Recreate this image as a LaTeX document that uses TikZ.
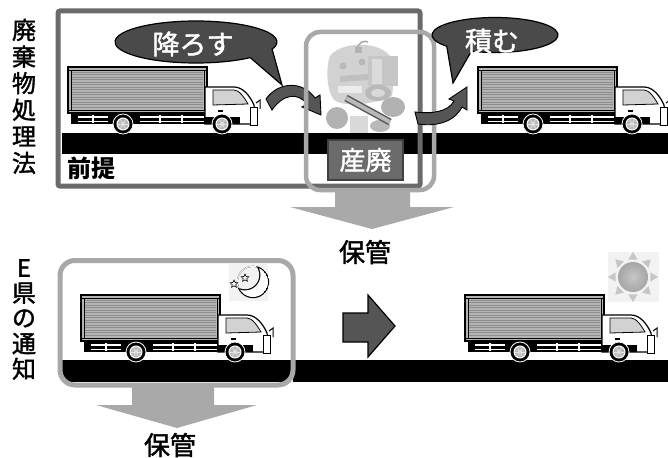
\documentclass[tikz,border=0pt]{standalone}
\usepackage{fontspec}
\newfontfamily\jp[FakeBold=1.6]{Noto Sans CJK JP}
\newfontfamily\jpb{Noto Sans CJK JP}
\usetikzlibrary{calc,shapes.geometric}
\definecolor{frameDark}{HTML}{6A6A6A}
\definecolor{frameLight}{HTML}{A8A8A8}
\definecolor{bubbleFill}{HTML}{4A4A4A}
\definecolor{arrowDark}{HTML}{555555}
\definecolor{arrowLight}{HTML}{A9A9A9}
\definecolor{boxStripe}{HTML}{8C8C8C}
\definecolor{boxBase}{HTML}{B4B4B4}
\definecolor{skyPale}{HTML}{F2F2F2}
\definecolor{tagFill}{HTML}{6B6B6B}

\tikzset{
  vlabel/.style={font=\jp\fontsize{24}{24}\selectfont, inner sep=0pt},
  bubbletext/.style={font=\jp\fontsize{27}{27}\selectfont, text=white, inner sep=0pt},
  plain/.style={font=\jp\fontsize{26}{26}\selectfont, inner sep=0pt},
  bubble/.style={fill=bubbleFill, draw=black, line width=1.2pt},
  bentarrow/.style={fill=arrowDark, draw=black, line width=0.9pt},
  downarrow/.style={fill=arrowLight},
  truck/.pic={
    % chassis
    \fill[black] (3,44) rectangle (186,57);
    % cargo box with ribbed sides
    \fill[boxBase] (0,0) rectangle (139,46);
    \foreach \yy in {5,7.5,...,41}{
      \draw[boxStripe, line width=0.9pt] (4,\yy) -- (135,\yy);
    }
    \draw[black, line width=1.2pt] (0,0) rectangle (139,46);
    \draw[black, line width=0.8pt] (0,3) -- (139,3) (0,43) -- (139,43) (3,3) -- (3,43) (136,3) -- (136,43);
    % side guards
    \draw[white, line width=1.4pt] (10,50) -- (40,50) (10,54.5) -- (40,54.5)
      (72,50) -- (136,50) (72,54.5) -- (136,54.5)
      (92,48) -- (92,56) (114,48) -- (114,56) (25,48) -- (25,56);
    % cab
    \filldraw[fill=white, draw=black, line width=1.2pt]
      (137,57) -- (137,20) -- (166,20) .. controls (175,20) and (182,29) .. (186,38) -- (188,57) -- cycle;
    \filldraw[fill=gray!35, draw=black, line width=0.8pt]
      (145,23) -- (166,23) .. controls (171,23) and (176,30) .. (180,37) -- (145,38) -- cycle;
    \draw[black, line width=1.4pt] (150,44) -- (155,44);
    \fill[black] (137,50) rectangle (172,57);
    \filldraw[fill=white, draw=black, line width=0.8pt] (182,40) rectangle (189,58);
    \draw[black, line width=1pt] (188,36) -- (192,33) -- (192,42);
    % wheels
    \foreach \wx in {55,154}{
      \filldraw[fill=black, draw=white, line width=0.8pt] (\wx,57) circle (10);
      \filldraw[fill=gray!55, draw=white, line width=1pt] (\wx,57) circle (6);
      \foreach \s in {0,60,...,300}{
        \draw[gray!20, line width=0.6pt] (\wx,57) -- ++(\s:5);
      }
      \fill[gray!25] (\wx,57) circle (2);
    }
  }
}

\begin{document}
\begin{tikzpicture}[x=1pt,y=-1pt]
\useasboundingbox (0,0) rectangle (668,457);
\fill[white] (0,0) rectangle (668,457);

% ---------- upper row: 廃棄物処理法 ----------
\foreach \ch [count=\i from 0] in {廃,棄,物,処,理,法}{
  \node[vlabel] (law\i) at (24,30+\i*26.6) {\ch};
}

% road
\fill[black] (62,133) rectangle (668,154);

% outer frame of the premise
\draw[frameDark, line width=5pt, rounded corners=2pt] (58,11) rectangle (420,186);
\node[inner sep=0pt, font=\jpb\bfseries\fontsize{24}{24}\selectfont, anchor=west] (premise) at (67,168) {前提};

% trucks
\pic (truckA) at (68,67) {truck};
\pic (truckB) at (478,67) {truck};

% waste heap
\begin{scope}
  \fill[gray!35] (330,56) .. controls (338,44) and (370,40) .. (386,52)
    -- (396,62) -- (392,96) .. controls (375,104) and (345,108) .. (334,100)
    .. controls (326,90) and (326,66) .. cycle;
  \fill[gray!45] (368,56) rectangle (398,86);
  \fill[gray!28] (372,59) rectangle (382,84);
  \fill[gray!55] (343,66) circle (3.5);
  \fill[gray!55] (362,62) circle (3.5);
  \fill[gray!15] (338,86) rectangle (362,93);
  \fill[gray!50] (340,76) -- (368,74) -- (368,80) -- (340,82) -- cycle;
  \draw[gray!65, line width=1.6pt] (357,50) .. controls (358,42) and (364,40) .. (368,42);
  \fill[gray!60] (355,47) rectangle (362,53);
  \fill[gray!55] (378,93) ellipse (13 and 8);
  \fill[gray!30] (378,93) ellipse (7 and 4);
  \fill[gray!60] (393,107) ellipse (12 and 10);
  \fill[gray!60] (337,118) ellipse (11 and 11);
  \fill[gray!30] (350,116) rectangle (368,133);
  \fill[gray!55] (380,126) ellipse (10 and 6);
  \draw[gray!70!black, line width=7pt] (346,98) -- (390,122);
  \draw[gray!55, line width=4pt] (346,98) -- (390,122);
\end{scope}

% speech bubble: 降ろす
\path[bubble] ($(196,42)+(20:81 and 21)$) -- (282,85) -- ($(196,42)+(48:81 and 21)$)
  arc[start angle=48, end angle=380, x radius=81, y radius=21] -- cycle;
\node[bubbletext] (unload) at (193,44) {降ろす};

% bent arrow from the truck to the heap
\path[bentarrow] (266,99) .. controls (278,82) and (302,80) .. (315,98)
  -- (320,95) -- (321,115) -- (302,107) -- (307,104)
  .. controls (298,92) and (283,94) .. (272,110) -- cycle;

% light frame round the waste
\draw[frameLight, line width=4.5pt, rounded corners=14pt] (306,32) rectangle (434,190);

% speech bubble: 積む
\path[bubble] ($(495,35)+(112:63 and 17.5)$) -- (453,83) -- ($(495,35)+(140:63 and 17.5)$)
  arc[start angle=140, end angle=472, x radius=63, y radius=17.5] -- cycle;
\node[bubbletext] (load) at (492,41) {積む};

% bent arrow from the heap to the truck
\path[bentarrow] (415,112) .. controls (432,114) and (448,112) .. (454,101)
  -- (449,99) -- (467,87) -- (467,110) -- (462,107)
  .. controls (455,121) and (438,127) .. (418,124) -- cycle;

% label of the waste
\node[draw=black!75, line width=1.5pt, fill=tagFill, minimum width=75pt, minimum height=40pt, inner sep=0pt,
  text=white, font=\jp\fontsize{26}{26}\selectfont] (tag) at (365.5,160) {産廃};

% downward arrow to storage
\fill[downarrow] (335,191) -- (410,191) -- (410,207) -- (454,207) -- (372,229) -- (290,207) -- (335,207) -- cycle;
\node[plain] (keepA) at (365,252) {保管};

% ---------- lower row: E県の通知 ----------
\foreach \ch [count=\i from 0] in {E,県,の,通,知}{
  \node[vlabel] (notice\i) at (24,268+\i*25.2) {\ch};
}

% road, partly inside the rounded frame
\begin{scope}
  \clip[rounded corners=13pt] (60,260.5) rectangle (293,385);
  \fill[black] (55,360) rectangle (300,382);
\end{scope}
\fill[black] (293,360) rectangle (668,382);

\draw[frameLight, line width=5pt, rounded corners=15pt] (60,260.5) rectangle (293,385);

\pic (truckC) at (81,295) {truck};
\pic (truckD) at (465,295) {truck};

% night sky with moon and stars
\fill[skyPale] (229,263) rectangle (268,301);
\begin{scope}
  \clip (253,282) circle (16.2);
  \fill[black] (253,282) circle (16.2);
  \fill[skyPale] (245,275) circle (14.2);
\end{scope}
\begin{scope}
  \clip (253,282) circle (15);
  \fill[white] (253,282) circle (15);
  \fill[black] (245,275) circle (15.4);
  \fill[skyPale] (245,275) circle (14.2);
\end{scope}
\node[star, star points=5, star point ratio=2.1, draw=black, fill=white, line width=0.6pt,
  minimum size=8pt, inner sep=0pt] (starA) at (234,284) {};
\node[star, star points=5, star point ratio=2.1, draw=black, fill=white, line width=0.6pt,
  minimum size=8pt, inner sep=0pt] (starB) at (245,278) {};

% daytime sun
\fill[skyPale] (608,252) rectangle (659,302);
\foreach \a in {0,45,...,315}{
  \fill[gray!45] ($(633,277)+(\a:25)$) -- ($(633,277)+(\a+15:18)$) -- ($(633,277)+(\a-15:18)$) -- cycle;
}
\shade[inner color=gray!45, outer color=gray!70] (633,277) circle (15);

% downward arrow to storage
\fill[downarrow] (132,387) -- (214,387) -- (214,405) -- (257,405) -- (177,428) -- (96,405) -- (132,405) -- cycle;
\node[plain] (keepB) at (170,445) {保管};

% arrow from night to day
\path[fill=arrowDark, draw=black, line width=1.2pt]
  (343,313) -- (368,313) -- (368,295) -- (395,326) -- (368,357) -- (368,342) -- (343,342) -- cycle;

\end{tikzpicture}
\end{document}
